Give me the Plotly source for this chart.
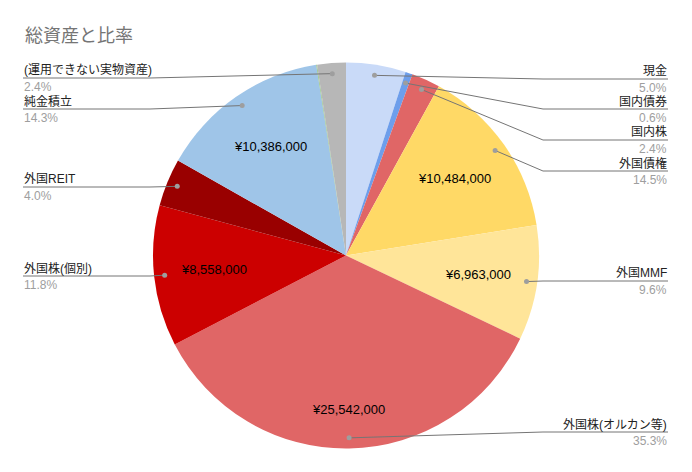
import math
import plotly.graph_objects as go

#%% data
labels = ['現金', '国内債券', '国内株', '外国債権', '外国MMF', '外国株(オルカン等)',
          '外国株(個別)', '外国REIT', '純金積立', 'その他', '(運用できない実物資産)']
values = [3616000, 434000, 1736000, 10484000, 6963000, 25542000,
          8558000, 2893000, 10386000, 50000, 1736000]
colors = ['#c9daf8', '#6d9eeb', '#e06666', '#ffd966', '#ffe599', '#e06666',
          '#cc0000', '#990000', '#9fc5e8', '#93c47d', '#b7b7b7']
# which slices get the yen amount printed inside
show_value = [False, False, False, True, True, True, True, False, True, False, False]
# which slices get an outside label, which side and where its underline sits (px)
label_side = ['r', 'r', 'r', 'r', 'r', 'r', 'l', 'l', 'l', None, 'l']
label_y = [79, 109, 140, 171, 281, 432, 276, 187, 109, None, 78]

#%% geometry (pixels of the page; the page body has an 8px margin)
OFF = 8
W, H = 692 - 2 * OFF, 472 - 2 * OFF
cx, cy, R = 346, 255.5, 193
FONT = 'Liberation Sans, Noto Sans CJK JP, Arial, sans-serif'


def px(x):
    return (x - OFF) / W


def py(y):
    return 1 - (y - OFF) / H


total = sum(values)
fig = go.Figure()
fig.add_trace(go.Pie(
    labels=labels, values=values, sort=False, direction='clockwise',
    rotation=0, marker=dict(colors=colors, line=dict(width=0)),
    textinfo='none', hoverinfo='label+value+percent', showlegend=False,
    domain=dict(x=[px(cx - R), px(cx + R)], y=[py(cy + R), py(cy - R)]),
))

shapes = []
annotations = []
cum = 0
for i, v in enumerate(values):
    mid = (cum + v / 2) / total * 2 * math.pi
    cum += v
    sx, sy = math.sin(mid), -math.cos(mid)

    if show_value[i]:
        rr = 0.80 if v / total > 0.3 else 0.69
        annotations.append(dict(
            x=px(cx + rr * R * sx), y=py(cy + rr * R * sy), xref='paper', yref='paper',
            xanchor='center', yanchor='middle',
            text='¥{:,}'.format(v), showarrow=False,
            font=dict(family=FONT, size=13, color='#000000')))

    side = label_side[i]
    if side is None:
        continue
    dx, dy = cx + 0.945 * R * sx, cy + 0.945 * R * sy
    ly = label_y[i]
    if side == 'r':
        elbow, end, anchor = 543, 668, 'right'
    else:
        elbow, end, anchor = 150, 23, 'left'
    shapes.append(dict(type='path', xref='paper', yref='paper',
                       path='M {} {} L {} {} L {} {}'.format(px(dx), py(dy), px(elbow), py(ly), px(end), py(ly)),
                       line=dict(color='#757575', width=1)))
    shapes.append(dict(type='circle', xref='paper', yref='paper',
                       x0=px(dx - 2.5), x1=px(dx + 2.5), y0=py(dy + 2.5), y1=py(dy - 2.5),
                       fillcolor='#9e9e9e', line=dict(width=0)))
    annotations.append(dict(
        x=px(end), y=py(ly - 8), xref='paper', yref='paper', xanchor=anchor, yanchor='middle',
        text=labels[i], showarrow=False, borderpad=0,
        font=dict(family=FONT, size=12, color='#222222')))
    annotations.append(dict(
        x=px(end), y=py(ly + 9), xref='paper', yref='paper', xanchor=anchor, yanchor='middle',
        text='{:.1f}%'.format(v / total * 100), showarrow=False, borderpad=0,
        font=dict(family=FONT, size=12, color='#9e9e9e')))

annotations.append(dict(
    x=px(23), y=py(36), xref='paper', yref='paper', xanchor='left', yanchor='middle',
    text='総資産と比率', showarrow=False,
    font=dict(family=FONT, size=18, color='#757575')))

fig.update_layout(
    width=W, height=H, margin=dict(l=0, r=0, t=0, b=0),
    paper_bgcolor='white', plot_bgcolor='white',
    shapes=shapes, annotations=annotations,
)

fig.write_html('out.html')
